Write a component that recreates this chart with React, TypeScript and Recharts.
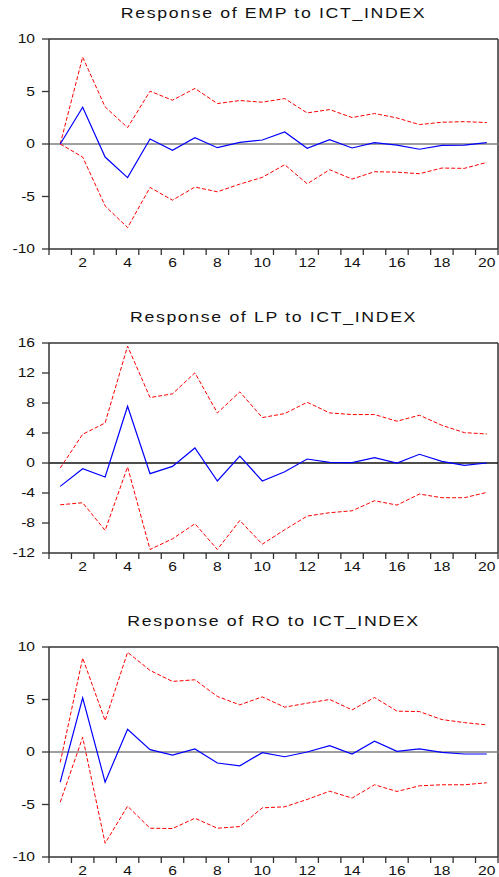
import React from 'react';
import { LineChart, Line, XAxis, YAxis, ReferenceLine } from 'recharts';

// Impulse responses to ICT_INDEX, periods 1..20
const periods = [1, 2, 3, 4, 5, 6, 7, 8, 9, 10, 11, 12, 13, 14, 15, 16, 17, 18, 19, 20];

const empResponse = [0, 3.5, -1.24, -3.2, 0.48, -0.6, 0.6, -0.35, 0.16, 0.38, 1.15, -0.41, 0.41, -0.38, 0.13, -0.1, -0.5, -0.13, -0.1, 0.13];
const empUpper = [0, 8.28, 3.53, 1.56, 5.03, 4.17, 5.29, 3.85, 4.14, 3.98, 4.33, 2.96, 3.28, 2.52, 2.9, 2.48, 1.85, 2.07, 2.13, 2.04];
const empLower = [0, -1.24, -5.9, -7.96, -4.14, -5.35, -4.1, -4.55, -3.82, -3.18, -1.97, -3.79, -2.45, -3.34, -2.64, -2.68, -2.83, -2.29, -2.32, -1.75];

const lpResponse = [-3.12, -0.76, -1.87, 7.57, -1.42, -0.45, 2.0, -2.4, 0.93, -2.4, -1.16, 0.53, 0.09, 0.04, 0.71, 0, 1.16, 0.22, -0.31, 0];
const lpUpper = [-0.67, 3.83, 5.34, 15.58, 8.73, 9.22, 12.02, 6.68, 9.48, 6.06, 6.59, 8.1, 6.68, 6.46, 6.46, 5.57, 6.37, 5.03, 4.05, 3.87];
const lpLower = [-5.57, -5.3, -8.99, -0.53, -11.53, -10.11, -8.1, -11.53, -7.66, -10.82, -8.9, -7.08, -6.63, -6.37, -5.03, -5.61, -4.14, -4.63, -4.63, -3.92];

const roResponse = [-2.87, 5.16, -2.87, 2.17, 0.22, -0.29, 0.29, -1.05, -1.31, -0.06, -0.45, 0, 0.61, -0.19, 1.02, 0.06, 0.29, -0.03, -0.19, -0.19];
const roUpper = [-0.99, 8.95, 2.99, 9.49, 7.77, 6.72, 6.88, 5.29, 4.49, 5.25, 4.27, 4.65, 5.0, 4.01, 5.19, 3.89, 3.85, 3.09, 2.8, 2.58];
const roLower = [-4.78, 1.4, -8.69, -5.16, -7.26, -7.29, -6.31, -7.26, -7.1, -5.32, -5.22, -4.52, -3.73, -4.39, -3.12, -3.76, -3.22, -3.12, -3.12, -2.93];

const xLabelTicks = [2, 4, 6, 8, 10, 12, 14, 16, 18, 20];
const xBoundaryTicks = [0.5, 1.5, 2.5, 3.5, 4.5, 5.5, 6.5, 7.5, 8.5, 9.5, 10.5, 11.5, 12.5, 13.5, 14.5, 15.5, 16.5, 17.5, 18.5, 19.5, 20.5];
const tenTicks = [-10, -5, 0, 5, 10];
const lpTicks = [-12, -8, -4, 0, 4, 8, 12, 16];

const FONT = '"Liberation Sans", Arial, sans-serif';
const AXIS = '#333333';
const W = 499;
const H = 272;

function XTick({ x, y, payload }: any) {
  const v = payload.value;
  if (v % 1 !== 0) {
    return <line x1={x} x2={x} y1={y - 6} y2={y} stroke={AXIS} strokeWidth={1.3} />;
  }
  return (
    <text
      transform={`translate(${x},${y + 8}) scale(1.25,1)`}
      textAnchor="middle"
      dominantBaseline="central"
      fontSize={12.5}
      fontFamily={FONT}
      fill="#111"
    >
      {v}
    </text>
  );
}

function YTick({ x, y, payload }: any) {
  return (
    <text
      transform={`translate(${x},${y}) scale(1.25,1)`}
      textAnchor="end"
      dominantBaseline="central"
      fontSize={12.5}
      fontFamily={FONT}
      fill="#111"
    >
      {payload.value}
    </text>
  );
}

interface PanelProps {
  title: string;
  response: number[];
  upper: number[];
  lower: number[];
  ticks: number[];
  zeroColor: string;
  top: number;
}

function Panel({ title, response, upper, lower, ticks, zeroColor, top }: PanelProps) {
  const data = periods.map((p, i) => ({
    period: p,
    response: response[i],
    upper: upper[i],
    lower: lower[i],
  }));
  const yMin = ticks[0];
  const yMax = ticks[ticks.length - 1];

  return (
    <div style={{ position: 'absolute', left: 0, top, width: W, height: H }}>
      <LineChart width={W} height={H} data={data} margin={{ top: 39, right: 1, left: 0, bottom: 3 }}>
        <XAxis
          type="number"
          dataKey="period"
          domain={[0.5, 20.5]}
          ticks={[...xBoundaryTicks, ...xLabelTicks].sort((a, b) => a - b)}
          interval={0}
          tickLine={false}
          tickSize={6}
          tickMargin={0}
          tick={<XTick />}
          axisLine={{ stroke: AXIS, strokeWidth: 1.5 }}
          height={20}
        />
        <YAxis
          type="number"
          domain={[yMin, yMax]}
          ticks={ticks}
          interval={0}
          width={49}
          tickSize={7}
          tickMargin={7}
          tick={<YTick />}
          tickLine={{ stroke: AXIS, strokeWidth: 1.3 }}
          axisLine={{ stroke: AXIS, strokeWidth: 1.5 }}
        />
        <ReferenceLine y={yMax} stroke={AXIS} strokeWidth={1.5} />
        <ReferenceLine x={20.5} stroke={AXIS} strokeWidth={1.5} />
        <ReferenceLine y={0} stroke={zeroColor} strokeWidth={1.3} />
        <Line type="linear" dataKey="upper" stroke="#ff0000" strokeWidth={1} strokeDasharray="4 2" dot={false} isAnimationActive={false} />
        <Line type="linear" dataKey="lower" stroke="#ff0000" strokeWidth={1} strokeDasharray="4 2" dot={false} isAnimationActive={false} />
        <Line type="linear" dataKey="response" stroke="#0000ff" strokeWidth={1.2} dot={false} isAnimationActive={false} />
      </LineChart>
      <svg width={W} height={30} style={{ position: 'absolute', left: 0, top: 0 }}>
        <text
          transform="translate(273.5,18) scale(1.18,1)"
          textAnchor="middle"
          fontSize={15}
          fontFamily={FONT}
          letterSpacing={1.4}
          fill="#111"
        >
          {title}
        </text>
      </svg>
    </div>
  );
}

export default function App() {
  return (
    <div style={{ position: 'absolute', left: 0, top: 0, width: W, height: 877, overflow: 'hidden', background: '#fff' }}>
      <Panel title="Response of EMP to ICT_INDEX" response={empResponse} upper={empUpper} lower={empLower} ticks={tenTicks} zeroColor="#7f7f7f" top={0} />
      <Panel title="Response of LP to ICT_INDEX" response={lpResponse} upper={lpUpper} lower={lpLower} ticks={lpTicks} zeroColor="#111111" top={304} />
      <Panel title="Response of RO to ICT_INDEX" response={roResponse} upper={roUpper} lower={roLower} ticks={tenTicks} zeroColor="#7f7f7f" top={608} />
    </div>
  );
}
